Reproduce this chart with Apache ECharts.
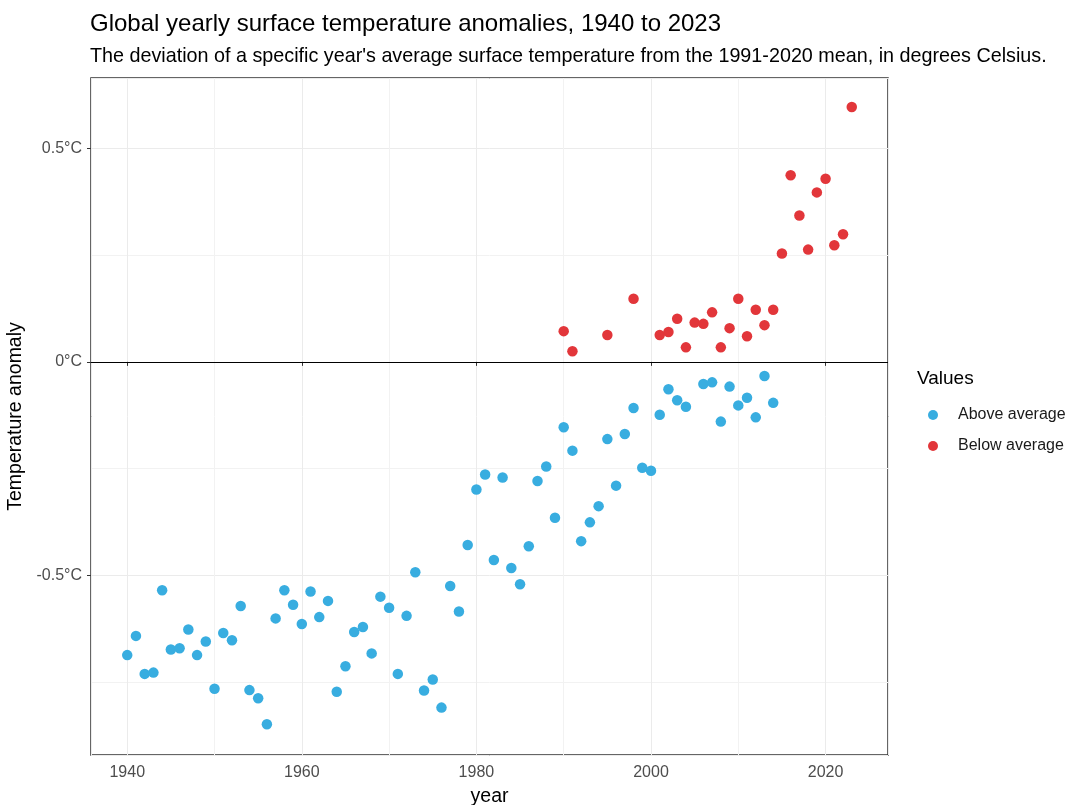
<!DOCTYPE html>
<html>
<head>
<meta charset="utf-8">
<script src="https://cdn.jsdelivr.net/npm/echarts@6/dist/echarts.min.js"></script>
<style>
html,body{margin:0;padding:0;background:#fff;}
#chart{width:1068px;height:805px;}
</style>
</head>
<body>
<div id="chart"></div>
<script>
// "Above average" series (blue) as labelled in the reference legend
const blueYears = [1940,1941,1942,1943,1944,1945,1946,1947,1948,1949,1950,1951,1952,1953,1954,1955,1956,1957,1958,1959,1960,1961,1962,1963,1964,1965,1966,1967,1968,1969,1970,1971,1972,1973,1974,1975,1976,1977,1978,1979,1980,1981,1982,1983,1984,1985,1986,1987,1988,1989,1990,1991,1992,1993,1994,1995,1996,1997,1998,1999,2000,2001,2002,2003,2004,2006,2007,2008,2009,2010,2011,2012,2013,2014];
const blueValues = [-0.687,-0.642,-0.731,-0.728,-0.535,-0.674,-0.671,-0.627,-0.687,-0.655,-0.766,-0.635,-0.652,-0.572,-0.769,-0.788,-0.849,-0.601,-0.535,-0.569,-0.614,-0.538,-0.598,-0.560,-0.773,-0.713,-0.633,-0.621,-0.683,-0.550,-0.576,-0.731,-0.595,-0.493,-0.770,-0.744,-0.810,-0.525,-0.585,-0.429,-0.299,-0.264,-0.464,-0.271,-0.483,-0.521,-0.432,-0.279,-0.245,-0.365,-0.153,-0.208,-0.420,-0.376,-0.338,-0.181,-0.290,-0.169,-0.108,-0.248,-0.255,-0.124,-0.064,-0.090,-0.105,-0.052,-0.048,-0.140,-0.058,-0.102,-0.084,-0.130,-0.033,-0.096];
// "Below average" series (red)
const redYears = [1990,1991,1995,1998,2001,2002,2003,2004,2005,2006,2007,2008,2009,2010,2011,2012,2013,2014,2015,2016,2017,2018,2019,2020,2021,2022,2023];
const redValues = [0.072,0.025,0.063,0.148,0.063,0.070,0.101,0.034,0.092,0.089,0.116,0.034,0.079,0.148,0.060,0.122,0.086,0.122,0.254,0.437,0.343,0.263,0.397,0.429,0.273,0.299,0.597];
const seriesNames = ['Above average','Below average'];
const referenceLine = 0;

const pair = (xs, ys) => xs.map((x, i) => [x, ys[i]]);
const FONT = 'Liberation Sans, Arial, sans-serif';
const chart = echarts.init(document.getElementById('chart'));
chart.setOption({
  backgroundColor: '#ffffff',
  animation: false,
  textStyle: { fontFamily: FONT },
  title: {
    text: 'Global yearly surface temperature anomalies, 1940 to 2023',
    subtext: "The deviation of a specific year's average surface temperature from the 1991-2020 mean, in degrees Celsius.",
    left: 85, top: 7, itemGap: 11,
    textStyle: { fontFamily: FONT, fontSize: 24, fontWeight: 'normal', color: '#000' },
    subtextStyle: { fontFamily: FONT, fontSize: 19.75, color: '#000' }
  },
  legend: {
    orient: 'vertical', left: 923, top: 402, itemGap: 15,
    icon: 'circle', itemWidth: 10, itemHeight: 10,
    textStyle: { fontFamily: FONT, fontSize: 16, color: '#1a1a1a', padding: [0,0,0,15] },
    data: seriesNames
  },
  graphic: [{
    type: 'text', left: 917, top: 369,
    style: { text: 'Values', font: '19px ' + FONT, fill: '#000' }
  }],
  grid: { left: 91, top: 78, width: 797, height: 677, outerBoundsMode: 'none', containLabel: false,
    show: true, borderColor: '#333333', borderWidth: 1.5, backgroundColor: '#fff' },
  xAxis: {
    type: 'value', min: 1935.85, max: 2027.15, minInterval: 20, maxInterval: 20,
    name: 'year', nameLocation: 'middle', nameGap: 32,
    nameTextStyle: { fontFamily: FONT, fontSize: 19.5, color: '#000' },
    axisLine: { show: false },
    axisTick: { show: true, length: 4, lineStyle: { color: '#333' } },
    axisLabel: { showMinLabel: false, showMaxLabel: false, fontSize: 16, color: '#4d4d4d', margin: 10, fontFamily: FONT,
      formatter: v => String(v) },
    splitLine: { show: true, lineStyle: { color: '#ebebeb', width: 1 } },
    minorTick: { show: false, splitNumber: 2 },
    minorSplitLine: { show: true, lineStyle: { color: '#f2f2f2', width: 1 } }
  },
  yAxis: {
    type: 'value', min: -0.921, max: 0.665, minInterval: 0.5, maxInterval: 0.5,
    name: 'Temperature anomaly', nameLocation: 'middle', nameGap: 50, nameRotate: 90,
    nameTextStyle: { fontFamily: FONT, fontSize: 19.5, color: '#000' },
    axisLine: { show: false },
    axisTick: { show: true, length: 4, lineStyle: { color: '#333' } },
    axisLabel: { showMinLabel: false, showMaxLabel: false, fontSize: 16, color: '#4d4d4d', margin: 9, fontFamily: FONT,
      formatter: v => (Math.round(v * 100) / 100) + '°C' },
    splitLine: { show: true, lineStyle: { color: '#ebebeb', width: 1 } },
    minorTick: { show: false, splitNumber: 2 },
    minorSplitLine: { show: true, lineStyle: { color: '#f2f2f2', width: 1 } }
  },
  series: [
    {
      name: seriesNames[0], type: 'scatter', symbolSize: 10.5,
      itemStyle: { color: '#38ADE0', opacity: 1 },
      data: pair(blueYears, blueValues),
      markLine: {
        silent: true, symbol: 'none', label: { show: false },
        lineStyle: { color: '#000', width: 1.2, type: 'solid' },
        data: [{ yAxis: referenceLine }]
      }
    },
    {
      name: seriesNames[1], type: 'scatter', symbolSize: 10.5,
      itemStyle: { color: '#E2363A', opacity: 1 },
      data: pair(redYears, redValues)
    }
  ]
});
</script>
</body>
</html>
